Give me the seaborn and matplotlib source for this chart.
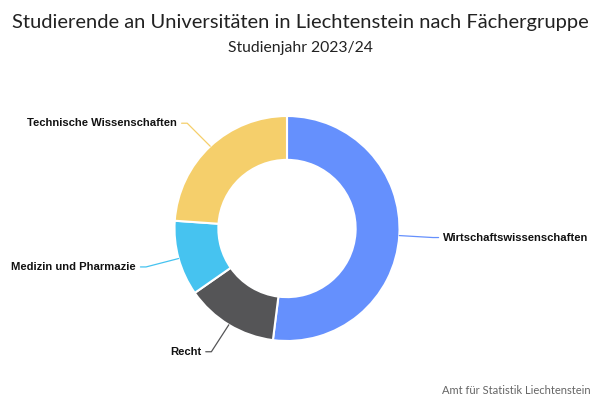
import numpy as np
import matplotlib
matplotlib.use("Agg")
import matplotlib.pyplot as plt
import seaborn as sns

# Anteile je Fächergruppe (aus dem Bild geschätzt, in %)
faecher = ["Wirtschaftswissenschaften", "Recht", "Medizin und Pharmazie", "Technische Wissenschaften"]
anteile = [52.0, 13.3, 10.8, 23.9]
farben = ["#6590fd", "#555557", "#46c3f0", "#f5cf6b"]

titel = "Studierende an Universitäten in Liechtenstein nach Fächergruppe"
untertitel = "Studienjahr 2023/24"
quelle = "Amt für Statistik Liechtenstein"

sns.set_theme(style="white")
plt.rcParams["font.family"] = ["Lato", "DejaVu Sans"]

fig = plt.figure(figsize=(6, 4), dpi=100)
fig.patch.set_facecolor("white")
ax = fig.add_axes([0.29083, 0.1475, 0.375, 0.5625])

pal = sns.color_palette(farben)
wedges, _ = ax.pie(anteile, colors=pal, startangle=90, counterclock=False,
                   radius=1.0, wedgeprops=dict(width=0.39, edgecolor="white", linewidth=1.5))
ax.set_xlim(-1, 1)
ax.set_ylim(-1, 1)
ax.set_aspect("equal")
ax.axis("off")

# Beschriftungen mit Verbindungslinien
for w, name, col in zip(wedges, faecher, pal):
    mitte = np.deg2rad((w.theta1 + w.theta2) / 2)
    x0, y0 = np.cos(mitte), np.sin(mitte)
    x1, y1 = 1.3 * x0, 1.28 * y0
    s = 1 if x0 > 0 else -1
    x2 = x1 + s * 0.05
    ax.plot([x0, x1, x2], [y0, y1, y1], color=col, lw=0.9, clip_on=False)
    ax.text(x2 + s * 0.04, y1, name, ha="left" if s > 0 else "right", va="center",
            fontsize=8.1, fontweight="bold", color="#111111",
            family=["Liberation Sans", "DejaVu Sans"])

fig.text(0.5, 0.943, titel, ha="center", va="center", fontsize=14.5, color="#222222")
fig.text(0.5, 0.88, untertitel, ha="center", va="center", fontsize=11.3, color="#222222")
fig.text(0.985, 0.025, quelle, ha="right", va="center", fontsize=8, color="#666666")

fig.savefig("out.png", dpi=100, facecolor="white")
